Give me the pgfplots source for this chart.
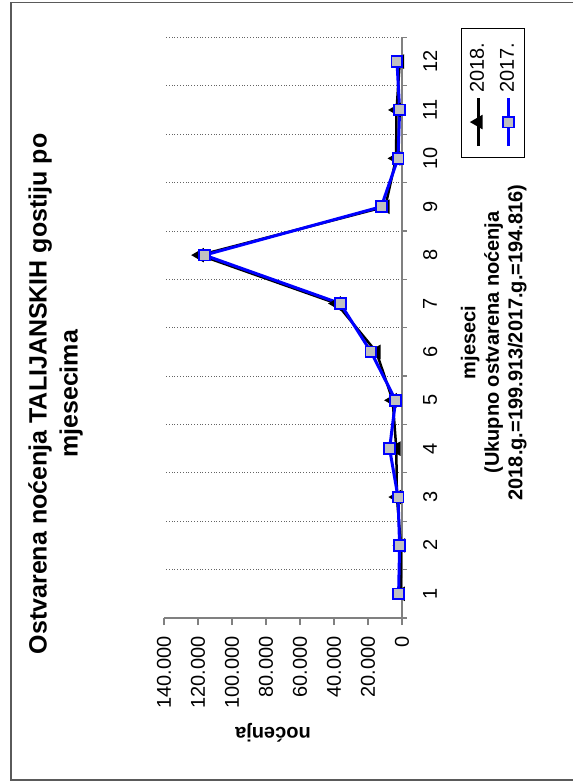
\documentclass[border=0pt]{standalone}
\usepackage{pgfplots}
\pgfplotsset{compat=1.18}
\usepackage{graphicx}
\usepackage{fontspec}
\setmainfont{Liberation Sans}

\definecolor{mkgray}{RGB}{192,192,192}
\definecolor{axgray}{RGB}{128,128,128}
\definecolor{gridgray}{RGB}{100,100,100}

\begin{document}
\rotatebox{90}{%
\begin{tikzpicture}
\useasboundingbox (0pt,0pt) rectangle (391pt,286.5pt);
% chart frame (bottom edge falls outside the picture)
\draw[axgray!70!black, line width=0.75pt] (1pt,0pt) -- (1pt,281pt) -- (389.75pt,281pt) -- (389.75pt,0pt);
\begin{axis}[
    at={(82pt,85.5pt)}, anchor=south west,
    scale only axis,
    width=290.3pt, height=119pt,
    xmin=0.5, xmax=12.5,
    ymin=0, ymax=140000,
    clip=false,
    axis x line*=bottom,
    axis y line*=left,
    axis line style={axgray, line width=0.6pt},
    tick align=outside,
    xtick={1,...,12},
    major x tick style={draw=none},
    minor xtick={0.5,1.5,...,12.5},
    minor tick length=2.5pt,
    minor x tick style={axgray, line width=0.6pt},
    xminorgrids=true,
    minor grid style={gridgray, densely dotted, line width=0.4pt},
    ytick={0,20000,...,140000},
    major tick length=3.5pt,
    major y tick style={axgray, line width=0.6pt},
    scaled y ticks=false,
    /pgf/number format/fixed,
    /pgf/number format/assume math mode=true,
    /pgf/number format/1000 sep={.},
    tick label style={font=\fontsize{10}{12}\selectfont},
    xticklabel style={yshift=-3.5pt},
    yticklabel style={xshift=-2pt},
    title={Ostvarena noćenja TALIJANSKIH gostiju po\\mjesecima},
    title style={at={(axis description cs:0.386,1.405)}, anchor=center,
        yshift=0pt, align=center, font=\bfseries\fontsize{12.5}{15.5}\selectfont},
    xlabel={mjeseci\\(Ukupno ostvarena noćenja\\2018.g.=199.913/2017.g.=194.816)},
    xlabel style={at={(axis description cs:0.4745,-0.385)}, anchor=center,
        align=center, font=\bfseries\fontsize{10}{11.75}\selectfont},
    ylabel={noćenja},
    ylabel style={at={(axis description cs:-0.198,0.542)}, anchor=center,
        font=\bfseries\fontsize{10}{12}\selectfont},
    legend style={at={(axis description cs:1.016,-0.25)}, anchor=north east,
        draw=black, font=\fontsize{10}{12}\selectfont,
        row sep=2.5pt, inner xsep=5pt, inner ysep=2pt,
        cells={anchor=west}},
    legend image code/.code={\draw[mark repeat=2,mark phase=2]
        plot coordinates {(0pt,0pt) (12pt,0pt) (24pt,0pt)};},
]
% 2018.
\addplot[black, line width=1.25pt, mark=triangle*, mark size=3pt,
    mark options={solid, fill=black}]
    coordinates {(1,800) (2,600) (3,3000) (4,3350) (5,5500) (6,15100)
                 (7,38500) (8,119000) (9,9800) (10,3500) (11,3200) (12,1300)};
\addlegendentry{2018.}
% 2017.
\addplot[blue, line width=1.5pt, mark=square*, mark size=2.7pt,
    mark options={solid, fill=mkgray, draw=blue, line width=0.9pt}]
    coordinates {(1,2000) (2,1400) (3,2350) (4,7300) (5,3750) (6,18250)
                 (7,36300) (8,116250) (9,12200) (10,2350) (11,1400) (12,2950)};
\addlegendentry{2017.}
\end{axis}
\end{tikzpicture}%
}
\end{document}
